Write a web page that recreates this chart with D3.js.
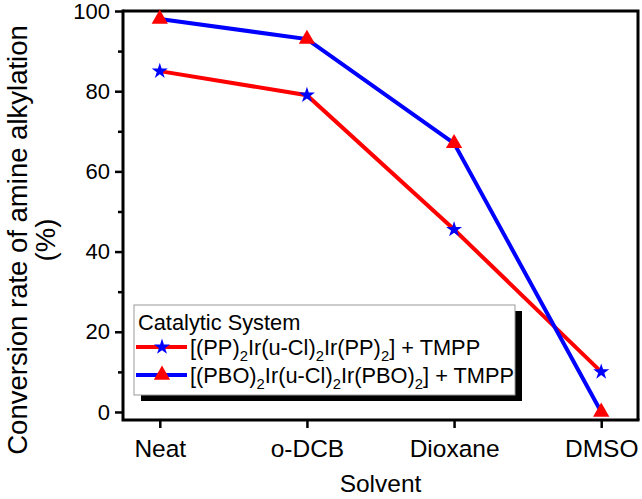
<!DOCTYPE html>
<html><head><meta charset="utf-8">
<script src="https://cdn.jsdelivr.net/npm/d3@7"></script>
<style>body{margin:0;background:#fff}svg{display:block}text{font-family:Arial,"Liberation Sans",sans-serif;fill:#000}</style>
</head><body>
<svg id="c" width="642" height="499"></svg>
<script>
const categories = ["Neat", "o-DCB", "Dioxane", "DMSO"];
const seriesPP = [85, 79, 45.5, 10];
const seriesPBO = [98, 93, 67, 0];
const yTicks = [0, 20, 40, 60, 80, 100];
const yMinorTicks = [10, 30, 50, 70, 90];

const svg = d3.select("#c");
const L = 123, R = 638, T = 11, B = 420;
const FS = 22, FX = 24.5, FT = 27.5, FL = 21.8;
const x = d3.scalePoint().domain(categories).range([L, R]).padding(0.25);
const y = d3.scaleLinear().domain([-2, 100]).range([B, T]);

// frame top/right
svg.append("path").attr("d", `M${L},${T}H${R}V${B}`).attr("fill","none").attr("stroke","#000").attr("stroke-width",3);

// y axis
const ya = svg.append("g").attr("transform",`translate(${L},0)`)
  .call(d3.axisLeft(y).tickValues(yTicks).tickSize(8).tickPadding(5));
ya.select(".domain").remove();
ya.selectAll(".tick line").attr("stroke-width",2.5);
ya.selectAll(".tick text").attr("font-size",FS).attr("font-family","Arial, Liberation Sans");
const ym = svg.append("g").attr("transform",`translate(${L},0)`)
  .call(d3.axisLeft(y).tickValues(yMinorTicks).tickSize(5).tickFormat(""));
ym.select(".domain").remove();
ym.selectAll(".tick line").attr("stroke-width",2.5);

// x axis
const xa = svg.append("g").attr("transform",`translate(0,${B})`)
  .call(d3.axisBottom(x).tickSize(8).tickPadding(12));
xa.select(".domain").remove();
xa.selectAll(".tick line").attr("stroke-width",2.5);
xa.selectAll(".tick text").attr("font-size",FX).attr("font-family","Arial, Liberation Sans");

// axis lines
svg.append("path").attr("d",`M${L},${T-1.5}V${B}H${R+1.5}`).attr("fill","none").attr("stroke","#000").attr("stroke-width",3);

// axis titles
svg.append("text").attr("x",(L+R)/2).attr("y",492).attr("text-anchor","middle").attr("font-size",FX).text("Solvent");
const yt = svg.append("text").attr("transform",`translate(0,240) rotate(-90)`).attr("text-anchor","middle").attr("font-size",FT);
yt.append("tspan").attr("x",0).attr("y",27).text("Conversion rate of amine alkylation");
yt.append("tspan").attr("x",0).attr("y",55).text("(%)");

// lines
const line = d3.line().x((d,i)=>x(categories[i])).y(d=>y(d));
svg.append("path").datum(seriesPP).attr("d",line).attr("fill","none").attr("stroke","#ff0000").attr("stroke-width",4);
svg.append("path").datum(seriesPBO).attr("d",line).attr("fill","none").attr("stroke","#0000ff").attr("stroke-width",4);

const star = d3.symbol().type(d3.symbolStar).size(80);
const tri = d3.symbol().type(d3.symbolTriangle).size(115);
svg.selectAll(".st").data(seriesPP).join("path").attr("class","st")
  .attr("d",star).attr("transform",(d,i)=>`translate(${x(categories[i])},${y(d)})`).attr("fill","#0000ff");
svg.selectAll(".tr").data(seriesPBO).join("path").attr("class","tr")
  .attr("d",tri).attr("transform",(d,i)=>`translate(${x(categories[i])},${y(d)})`).attr("fill","#ff0000");

// legend
const lg = svg.append("g");
const lx = 134, ly = 305, lw = 381, lh = 90;
lg.append("rect").attr("x",lx+7).attr("y",ly+6).attr("width",lw).attr("height",lh).attr("fill","#000");
lg.append("rect").attr("x",lx).attr("y",ly).attr("width",lw).attr("height",lh).attr("fill","#fff").attr("stroke","#999").attr("stroke-width",1);
lg.append("text").attr("x",lx+4).attr("y",ly+25).attr("font-size",FL).text("Catalytic System");
function row(yy, lineColor, sym, symColor, parts){
  lg.append("line").attr("x1",lx+2).attr("x2",lx+53).attr("y1",yy).attr("y2",yy).attr("stroke",lineColor).attr("stroke-width",4);
  lg.append("path").attr("d",sym).attr("transform",`translate(${lx+28},${yy})`).attr("fill",symColor);
  const t = lg.append("text").attr("x",lx+56).attr("y",yy+8).attr("font-size",FL);
  parts.forEach(p=>{
    if (p.sub) t.append("tspan").attr("font-size",FL*0.68).attr("dy",6).text(p.t);
    else t.append("tspan").attr("dy",p.after? -6:0).text(p.t);
  });
}
function parse(s){ // "_2" marks subscript 2
  const out=[]; let after=false;
  s.split(/(_2)/).forEach(seg=>{ if(seg==="_2"){out.push({t:"2",sub:true}); after=true;} else if(seg){out.push({t:seg,after}); after=false;} });
  return out;
}
row(ly+42, "#ff0000", star, "#0000ff", parse("[(PP)_2Ir(u-Cl)_2Ir(PP)_2] + TMPP"));
row(ly+70, "#0000ff", tri, "#ff0000", parse("[(PBO)_2Ir(u-Cl)_2Ir(PBO)_2] + TMPP"));
</script>
</body></html>
